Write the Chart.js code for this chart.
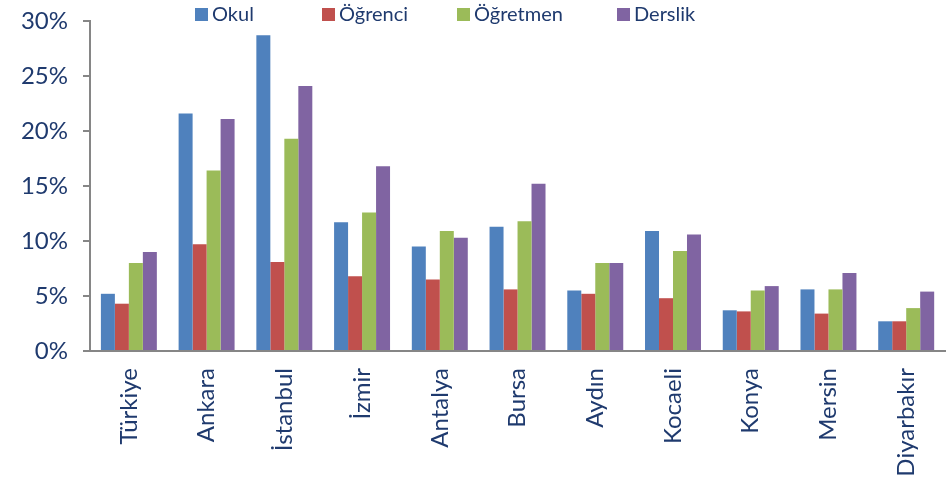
<!DOCTYPE html>
<html>
<head>
<meta charset="utf-8">
<script src="https://cdn.jsdelivr.net/npm/chart.js@4.4.1/dist/chart.umd.min.js"></script>
<style>
  body { margin: 0; background: #fff; }
  canvas { display: block; }
</style>
</head>
<body>
<canvas id="myChart" width="952" height="479"></canvas>
<script>
const cities = ["Türkiye", "Ankara", "İstanbul", "İzmir", "Antalya", "Bursa", "Aydın", "Kocaeli", "Konya", "Mersin", "Diyarbakır"];
const okul = [5.2, 21.6, 28.7, 11.7, 9.5, 11.3, 5.5, 10.9, 3.7, 5.6, 2.7];
const ogrenci = [4.3, 9.7, 8.1, 6.8, 6.5, 5.6, 5.2, 4.8, 3.6, 3.4, 2.7];
const ogretmen = [8.0, 16.4, 19.3, 12.6, 10.9, 11.8, 8.0, 9.1, 5.5, 5.6, 3.9];
const derslik = [9.0, 21.1, 24.1, 16.8, 10.3, 15.2, 8.0, 10.6, 5.9, 7.1, 5.4];
const seriesNames = ["Okul", "Öğrenci", "Öğretmen", "Derslik"];
const seriesColors = ["#4F81BD", "#C0504D", "#9BBB59", "#8064A2"];

const textColor = "#1F3A6E";
const fontFamily = "Lato, 'Open Sans', sans-serif";

// legend sits inside the plot region, so draw it by hand
const legendPlugin = {
  id: "topLegend",
  afterDraw(chart) {
    const c = chart.ctx;
    const xs = [195, 322, 457, 617];
    c.save();
    c.font = "20px " + fontFamily;
    c.textBaseline = "middle";
    chart.data.datasets.forEach((ds, i) => {
      c.fillStyle = ds.backgroundColor;
      c.fillRect(xs[i], 8, 13, 13);
      c.fillStyle = textColor;
      c.fillText(ds.label, xs[i] + 17, 15);
    });
    c.restore();
  },
};

const series = [okul, ogrenci, ogretmen, derslik];

new Chart(document.getElementById("myChart"), {
  type: "bar",
  data: {
    labels: cities,
    datasets: series.map((d, i) => ({
      label: seriesNames[i],
      data: d,
      backgroundColor: seriesColors[i],
      borderWidth: 0,
      categoryPercentage: 0.72,
      barPercentage: 1,
    })),
  },
  options: {
    responsive: false,
    animation: false,
    layout: { padding: { top: 21, right: 0, left: 8, bottom: 0 } },
    plugins: {
      legend: { display: false },
      tooltip: { enabled: false },
    },
    scales: {
      x: {
        afterFit: function (scale) {
          scale.height = 128;
        },
        grid: { display: false, drawTicks: false },
        border: { color: "#868686", width: 2 },
        ticks: {
          color: textColor,
          font: { family: fontFamily, size: 24 },
          minRotation: 90,
          maxRotation: 90,
          padding: 17,
        },
      },
      y: {
        min: 0,
        max: 30,
        afterFit: function (scale) {
          scale.width = 82;
          scale.paddingTop = 0;
          scale.paddingBottom = 0;
        },
        grid: { drawOnChartArea: false, drawTicks: true, tickLength: 7, color: "#868686", lineWidth: 2 },
        border: { color: "#868686", width: 2 },
        ticks: {
          stepSize: 5,
          color: textColor,
          font: { family: fontFamily, size: 24 },
          padding: 15,
          callback: function (value) {
            return value + "%";
          },
        },
      },
    },
  },
  plugins: [legendPlugin],
});
</script>
</body>
</html>
